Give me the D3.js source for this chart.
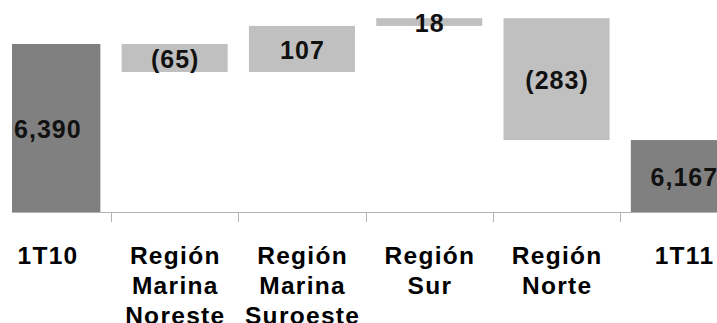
<!DOCTYPE html>
<html><head><meta charset="utf-8">
<script src="https://cdn.jsdelivr.net/npm/d3@7"></script>
<style>html,body{margin:0;padding:0;background:#fff;}svg{display:block;}</style>
</head><body>
<svg id="chart" width="717" height="323"></svg>
<script>
const categories = ["1T10", "Región Marina Noreste", "Región Marina Suroeste", "Región Sur", "Región Norte", "1T11"];
const categoryLines = [["1T10"], ["Región", "Marina", "Noreste"], ["Región", "Marina", "Suroeste"], ["Región", "Sur"], ["Región", "Norte"], ["1T11"]];
const values = [6390, -65, 107, 18, -283, 6167];
const isTotal = [true, false, false, false, false, true];
const yDomain = [6000, 6390];

const svg = d3.select("#chart");
const plotLeft = 12, plotRight = 717, plotBottom = 212;

const step = 127.3;
const x = d3.scaleBand().domain(categories)
  .range([111 - step, 111 + 5 * step])
  .paddingInner(0.167).paddingOuter(0.0835);
const y = d3.scaleLinear().domain(yDomain).range([plotBottom, 44]);

let running = 0;
const segs = categories.map((c, i) => {
  let y0, y1;
  if (isTotal[i]) { y0 = yDomain[0]; y1 = values[i]; running = values[i]; }
  else { y0 = running; y1 = running + values[i]; running = y1; }
  return { c, i, lo: Math.min(y0, y1), hi: Math.max(y0, y1), v: values[i], total: isTotal[i] };
});

svg.append("defs").append("clipPath").attr("id", "plot")
  .append("rect").attr("x", plotLeft).attr("y", 0).attr("width", plotRight - plotLeft).attr("height", plotBottom);

const g = svg.append("g").attr("clip-path", "url(#plot)");
g.selectAll("rect.bar").data(segs).enter().append("rect")
  .attr("class", "bar")
  .attr("x", d => x(d.c))
  .attr("width", x.bandwidth())
  .attr("y", d => y(d.hi))
  .attr("height", d => y(d.lo) - y(d.hi))
  .attr("fill", d => d.total ? "#808080" : "#c0c0c0");

svg.append("line").attr("x1", plotLeft).attr("x2", plotRight)
  .attr("y1", plotBottom + 0.5).attr("y2", plotBottom + 0.5)
  .attr("stroke", "#b4b4b4").attr("stroke-width", 1.2);
const tickXs = categories.slice(1).map(c => x(c) - (x.step() - x.bandwidth()) / 2);
svg.selectAll("line.tick").data(tickXs).enter().append("line")
  .attr("x1", d => Math.round(d) + 0.5).attr("x2", d => Math.round(d) + 0.5)
  .attr("y1", plotBottom).attr("y2", plotBottom + 10)
  .attr("stroke", "#b4b4b4").attr("stroke-width", 1);

const fmt = d3.format(",");
const labelText = d => d.total ? fmt(d.v) : (d.v < 0 ? "(" + fmt(-d.v) + ")" : fmt(d.v));

svg.selectAll("text.val").data(segs).enter().append("text")
  .attr("class", "val")
  .attr("x", d => x(d.c) + x.bandwidth() / 2 + 0.5)
  .attr("y", d => (y(d.lo) + y(d.hi)) / 2)
  .attr("dy", "0.4em")
  .attr("text-anchor", "middle")
  .attr("font-family", "Liberation Sans, Arial, sans-serif")
  .attr("font-weight", "bold")
  .attr("font-size", 25)
  .attr("letter-spacing", 1.0)
  .attr("fill", "#111")
  .text(labelText);

const cat = svg.selectAll("text.cat").data(categories).enter().append("text")
  .attr("class", "cat")
  .attr("text-anchor", "middle")
  .attr("font-family", "Liberation Sans, Arial, sans-serif")
  .attr("font-weight", "bold")
  .attr("font-size", 24.5)
  .attr("letter-spacing", 1.3)
  .attr("fill", "#000");
cat.each(function(d, i) {
  const t = d3.select(this);
  categoryLines[i].forEach((ln, k) => {
    t.append("tspan").attr("x", x(d) + x.bandwidth() / 2 + 0.65).attr("y", 264 + k * 30).text(ln);
  });
});
</script>
</body></html>
